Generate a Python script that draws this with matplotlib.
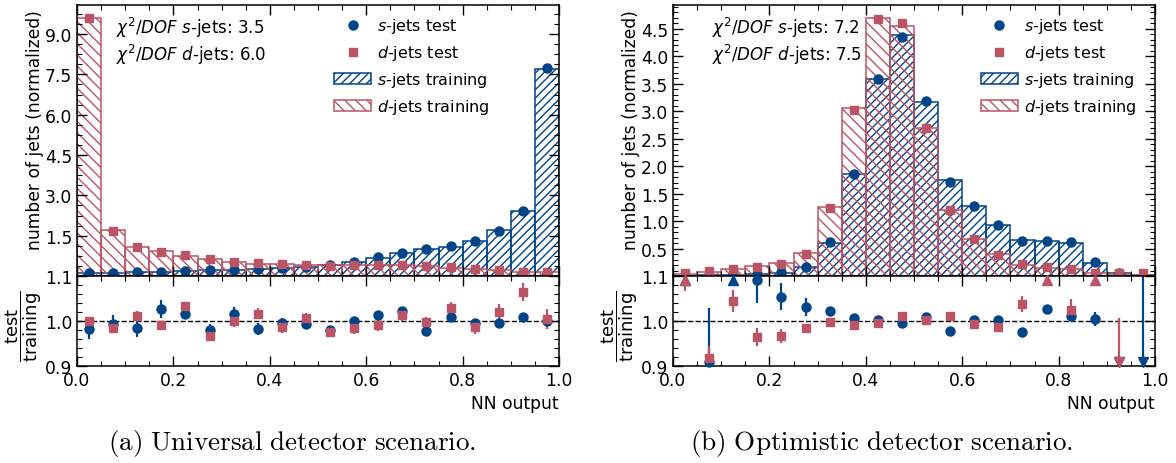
import numpy as np
import matplotlib
matplotlib.use('Agg')
import matplotlib.pyplot as plt
from matplotlib.ticker import AutoMinorLocator, MultipleLocator
from matplotlib.patches import Patch
from matplotlib.lines import Line2D

BLUE = '#004488'
RED = '#BB5566'
nan = np.nan

edges = np.linspace(0, 1, 21)
centers = 0.5 * (edges[1:] + edges[:-1])

# (a) universal detector scenario
s_train_a = [0.10, 0.11, 0.14, 0.15, 0.19, 0.22, 0.22, 0.26, 0.29, 0.35,
             0.41, 0.535, 0.68, 0.85, 1.02, 1.09, 1.32, 1.71, 2.41, 7.69]
d_train_a = [9.58, 1.72, 1.08, 0.92, 0.76, 0.64, 0.52, 0.46, 0.44, 0.42,
             0.41, 0.42, 0.42, 0.40, 0.39, 0.31, 0.26, 0.21, 0.15, 0.14]
s_test_a = [0.10, 0.10, 0.14, 0.16, 0.20, 0.22, 0.22, 0.25, 0.29, 0.35,
            0.40, 0.53, 0.70, 0.87, 1.00, 1.12, 1.29, 1.69, 2.43, 7.72]
d_test_a = [9.60, 1.69, 1.09, 0.91, 0.78, 0.62, 0.51, 0.47, 0.44, 0.42,
            0.39, 0.41, 0.41, 0.41, 0.39, 0.32, 0.26, 0.21, 0.16, 0.14]
s_ratio_a = [0.982, 0.993, 0.984, 1.027, 1.016, 0.979, 1.016, 0.982, 0.996, 0.993,
             0.979, 0.999, 1.013, 1.022, 0.977, 1.009, 0.996, 0.995, 1.009, 1.000]
s_err_a = [0.022, 0.02, 0.02, 0.02, 0.012, 0.015, 0.015, 0.013, 0.01, 0.01,
           0.008, 0.008, 0.007, 0.006, 0.006, 0.006, 0.005, 0.005, 0.005, 0.004]
d_ratio_a = [1.001, 0.984, 1.012, 0.990, 1.033, 0.967, 0.999, 1.016, 0.986, 1.006,
             0.976, 0.984, 0.990, 1.013, 0.997, 1.028, 0.986, 1.019, 1.065, 1.004]
d_err_a = [0.004, 0.01, 0.01, 0.01, 0.01, 0.01, 0.012, 0.012, 0.012, 0.012,
           0.012, 0.012, 0.012, 0.012, 0.012, 0.015, 0.015, 0.018, 0.02, 0.022]
chi2_a = (3.5, 6.0)

# (b) optimistic detector scenario
s_train_b = [0.005, 0.01, 0.01, 0.04, 0.06, 0.155, 0.61, 1.85, 3.58, 4.38,
             3.16, 1.74, 1.27, 0.93, 0.66, 0.63, 0.61, 0.24, 0.06, 0.015]
d_train_b = [0.03, 0.08, 0.12, 0.18, 0.23, 0.41, 1.25, 3.06, 4.70, 4.56,
             2.70, 1.20, 0.68, 0.40, 0.20, 0.15, 0.12, 0.06, 0.03, 0.01]
s_test_b = [nan, 0.01, 0.015, 0.03, 0.07, 0.16, 0.62, 1.86, 3.59, 4.35,
            3.19, 1.71, 1.27, 0.93, 0.64, 0.64, 0.62, 0.26, 0.06, nan]
d_test_b = [0.05, 0.09, 0.13, 0.16, 0.225, 0.40, 1.24, 3.03, 4.68, 4.61,
            2.70, 1.20, 0.68, 0.38, 0.21, 0.165, 0.12, 0.05, 0.05, 0.05]
s_ratio_b = [1.3, 0.908, 1.2, 1.09, 1.054, 1.03, 1.023, 1.007, 1.002, 0.995,
             1.008, 0.978, 1.002, 1.002, 0.975, 1.026, 1.012, 1.005, 0.8, 0.8]
s_err_b = [0.1, 0.12, 0.05, 0.05, 0.03, 0.02, 0.008, 0.006, 0.005, 0.005,
           0.006, 0.007, 0.008, 0.008, 0.008, 0.01, 0.012, 0.015, 0.1, 0.35]
d_ratio_b = [1.12, 0.917, 1.044, 0.965, 0.967, 0.984, 0.997, 0.99, 0.995, 1.012,
             1.002, 1.012, 0.993, 0.987, 1.038, 1.13, 1.024, 1.15, 0.85, nan]
d_err_b = [0.053, 0.028, 0.025, 0.02, 0.015, 0.01, 0.006, 0.005, 0.005, 0.005,
           0.006, 0.008, 0.01, 0.012, 0.017, 0.045, 0.025, 0.04, 0.156, 0.0]
chi2_b = (7.2, 7.5)

plt.rcParams['axes.linewidth'] = 1.1
plt.rcParams['hatch.linewidth'] = 1.0
FS = 12.3


def ratio_points(ax, ratio, err, color, marker, ms, lo=0.9, hi=1.1):
    r = np.array(ratio, float)
    e = np.array(err, float)
    ok = (r >= lo) & (r <= hi)
    ax.errorbar(centers[ok], r[ok], yerr=e[ok], fmt='none', ecolor=color, elinewidth=1.6)
    ax.plot(centers[ok], r[ok], ls='none', marker=marker, ms=ms, color=color, clip_on=False, zorder=3)
    over = r > hi
    under = r < lo
    ax.vlines(centers[over], r[over] - e[over], hi, color=color, lw=1.6)
    ax.vlines(centers[under], lo, r[under] + e[under], color=color, lw=1.6)
    ax.plot(centers[over], np.full(over.sum(), hi - 0.009), ls='none', marker='^', ms=7,
            color=color, clip_on=False, zorder=3)
    ax.plot(centers[under], np.full(under.sum(), lo + 0.009), ls='none', marker='v', ms=7,
            color=color, clip_on=False, zorder=3)


def panel(x0, s_train, d_train, s_test, d_test, s_ratio, s_err, d_ratio, d_err,
          chi2, ystep, nminor, leg_x, caption, cap_x):
    w = 482 / 1176
    ax = fig.add_axes([x0, 1 - 277 / 464, w, 271 / 464])
    rax = fig.add_axes([x0, 1 - 367 / 464, w, 90 / 464], sharex=ax)

    ax.bar(centers, s_train, width=0.05, fill=False, hatch='////', edgecolor=BLUE, lw=1.1)
    ax.bar(centers, d_train, width=0.05, fill=False, hatch='\\\\\\', edgecolor=RED, lw=1.1)
    ax.plot(centers, s_test, ls='none', marker='o', ms=6.5, color=BLUE, clip_on=False, zorder=4)
    ax.plot(centers, d_test, ls='none', marker='s', ms=6, color=RED, clip_on=False, zorder=4)

    top = 1.05 * np.nanmax([np.nanmax(s_test), np.nanmax(d_test), max(s_train), max(d_train)])
    ax.set_xlim(0, 1)
    ax.set_ylim(0, top)
    ax.set_yticks(np.arange(ystep, top, ystep))
    ax.yaxis.set_minor_locator(AutoMinorLocator(nminor))
    ax.xaxis.set_major_locator(MultipleLocator(0.2))
    ax.xaxis.set_minor_locator(AutoMinorLocator(4))
    ax.tick_params(labelbottom=False)
    ax.set_ylabel('number of jets (normalized)', fontsize=FS, loc='top')
    ax.yaxis.set_label_coords(-0.068, 0.985)

    ax.text(0.08, 0.92, r'$\chi^2/DOF$ $s$-jets: %.1f' % chi2[0], transform=ax.transAxes,
            fontsize=12, va='center')
    ax.text(0.08, 0.82, r'$\chi^2/DOF$ $d$-jets: %.1f' % chi2[1], transform=ax.transAxes,
            fontsize=12, va='center')

    handles = [Line2D([], [], ls='none', marker='o', ms=6.5, color=BLUE),
               Line2D([], [], ls='none', marker='s', ms=6, color=RED),
               Patch(fill=False, hatch='////', edgecolor=BLUE, lw=1.1),
               Patch(fill=False, hatch='\\\\\\', edgecolor=RED, lw=1.1)]
    labels = [r'$s$-jets test', r'$d$-jets test', r'$s$-jets training', r'$d$-jets training']
    ax.legend(handles, labels, loc='upper right', bbox_to_anchor=(leg_x, 1.0), frameon=False,
              fontsize=11.5, labelspacing=0.5, handlelength=2.3, handletextpad=0.4,
              borderaxespad=0.3)

    ratio_points(rax, s_ratio, s_err, BLUE, 'o', 6.5)
    ratio_points(rax, d_ratio, d_err, RED, 's', 6)
    rax.axhline(1.0, color='k', ls='--', lw=1.0, zorder=1)
    rax.set_ylim(0.9, 1.1)
    rax.set_yticks([0.9, 1.0, 1.1])
    rax.yaxis.set_minor_locator(AutoMinorLocator(5))
    rax.set_xlabel('NN output', fontsize=FS, loc='right')
    rax.set_ylabel(r'$\dfrac{\mathrm{test}}{\mathrm{training}}$', fontsize=13)
    rax.yaxis.set_label_coords(-0.068, 0.45)

    for a in (ax, rax):
        a.tick_params(which='both', direction='in', top=True, right=True, labelsize=FS)
        a.tick_params(which='major', length=7, width=1.0)
        a.tick_params(which='minor', length=3.5, width=0.8)

    fig.text(cap_x, 1 - 444 / 464, r'$\mathrm{' + caption + '}$', ha='center', va='center',
             fontsize=19.5, math_fontfamily='cm')


fig = plt.figure(figsize=(11.76, 4.64), dpi=100)
panel(77 / 1176, s_train_a, d_train_a, s_test_a, d_test_a, s_ratio_a, s_err_a, d_ratio_a, d_err_a,
      chi2_a, 1.5, 4, 0.88, r'(a)\ Universal\ detector\ scenario.', 292 / 1176)
panel(673 / 1176, s_train_b, d_train_b, s_test_b, d_test_b, s_ratio_b, s_err_b, d_ratio_b, d_err_b,
      chi2_b, 0.5, 5, 0.985, r'(b)\ Optimistic\ detector\ scenario.', 882 / 1176)

fig.savefig('out.png', dpi=100)
